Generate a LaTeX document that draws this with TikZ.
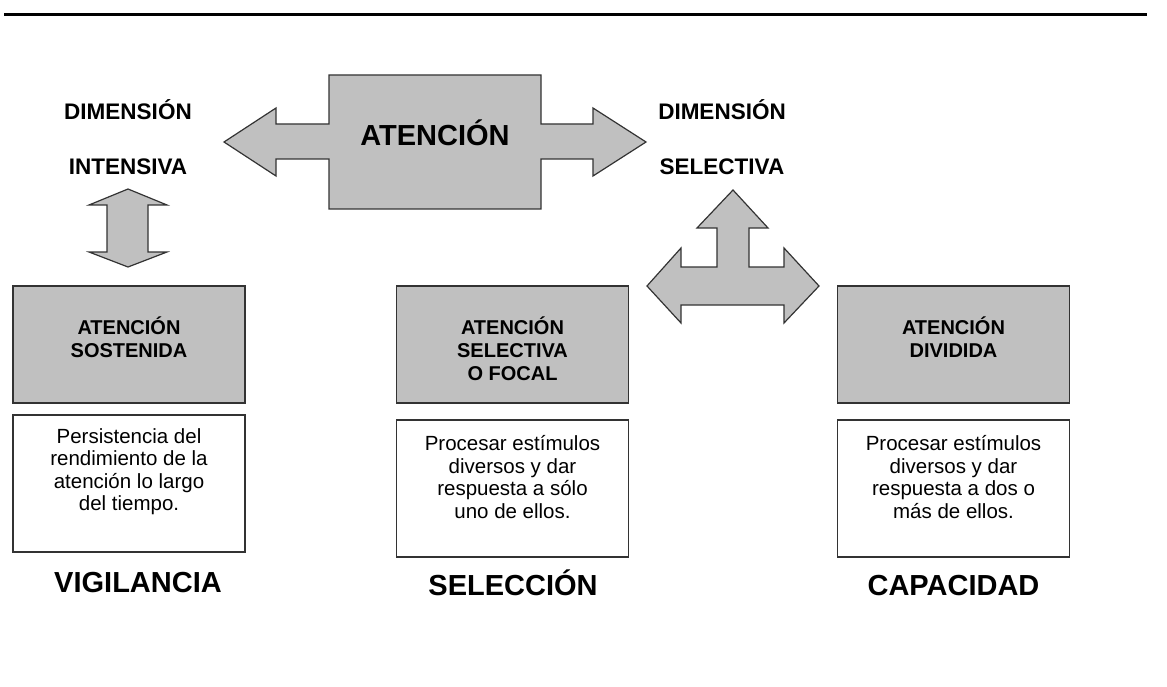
\documentclass[tikz,border=0pt]{standalone}
\usepackage{fontspec}
\setmainfont{Liberation Sans}
\usetikzlibrary{calc}

\definecolor{boxgray}{RGB}{192,192,192}
\tikzset{
  blockarrow/.style={draw=black!80, line width=1.2pt, fill=boxgray, line join=miter},
  titlebox/.style={draw=black!80, line width=1.5pt, fill=boxgray, inner sep=0pt,
    minimum width=232pt, minimum height=117pt},
  descbox/.style={draw=black!80, line width=1.5pt, fill=white, inner sep=0pt,
    minimum width=232pt, minimum height=137pt},
  titletext/.style={font=\fontsize{20}{23}\selectfont\bfseries, align=center, anchor=north, inner sep=0pt},
  desctext/.style={font=\fontsize{20.5}{22.5}\selectfont, align=center, anchor=north, inner sep=0pt},
  dimlabel/.style={font=\fontsize{22.5}{27}\selectfont\bfseries, anchor=base, inner sep=0pt},
  biglabel/.style={font=\fontsize{29}{34}\selectfont\bfseries, anchor=base, inner sep=0pt}
}

\begin{document}
\begin{tikzpicture}[x=1pt, y=-1pt]
\useasboundingbox (0,0) rectangle (1167,687);

% rule at the top
\draw[line width=3pt] (4,15) -- (1147,15);

% central box with its two arrows
\draw[blockarrow] (329,75) -- (541,75) -- (541,124) -- (593,124) -- (593,108) -- (646,142)
  -- (593,176) -- (593,159) -- (541,159) -- (541,209) -- (329,209) -- (329,159)
  -- (276,159) -- (276,176) -- (224,142) -- (276,108) -- (276,124) -- (329,124) -- cycle;
\node[biglabel] (aten) at (435,145.5) {ATENCIÓN};

\node[dimlabel] (dimi) at (128,120) {DIMENSIÓN};
\node[dimlabel] (inten) at (128,175) {INTENSIVA};
\node[dimlabel] (dims) at (722,120) {DIMENSIÓN};
\node[dimlabel] (selec) at (722,175) {SELECTIVA};

% up and down arrow
\draw[blockarrow] (128,189) -- (167,205) -- (148,205) -- (148,252) -- (167,252) -- (128,267)
  -- (89,252) -- (107,252) -- (107,205) -- (89,205) -- cycle;

% three way arrow
\draw[blockarrow] (733,190) -- (768,228) -- (749,228) -- (749,267) -- (784,267) -- (784,248)
  -- (819,286) -- (784,323) -- (784,305) -- (681,305) -- (681,323) -- (647,286)
  -- (681,248) -- (681,267) -- (717,267) -- (717,228) -- (697,228) -- cycle;

% boxes
\node[titlebox] (sost) at (129,344.5) {};
\node[titlebox] (foc) at (512.5,344.5) {};
\node[titlebox] (div) at (953.5,344.5) {};
\node[titletext] (sostT) at ($(sost.north)+(0,31)$) {ATENCIÓN\\SOSTENIDA};
\node[titletext] (focT) at ($(foc.north)+(0,31)$) {ATENCIÓN\\SELECTIVA\\O FOCAL};
\node[titletext] (divT) at ($(div.north)+(0,31)$) {ATENCIÓN\\DIVIDIDA};

\node[descbox] (vig) at (129,483.5) {};
\node[descbox] (sel) at (512.5,488.5) {};
\node[descbox] (cap) at (953.5,488.5) {};
\node[desctext] (vigT) at ($(vig.north)+(0,14)$) {Persistencia del\\rendimiento de la\\atención lo largo\\del tiempo.};
\node[desctext] (selT) at ($(sel.north)+(0,16)$) {Procesar estímulos\\diversos y dar\\respuesta a sólo\\uno de ellos.};
\node[desctext] (capT) at ($(cap.north)+(0,16)$) {Procesar estímulos\\diversos y dar\\respuesta a dos o\\más de ellos.};

\node[biglabel] (vigL) at (138,592) {VIGILANCIA};
\node[biglabel] (selL) at (513,595.5) {SELECCIÓN};
\node[biglabel] (capL) at (953.5,595.5) {CAPACIDAD};

\end{tikzpicture}
\end{document}
